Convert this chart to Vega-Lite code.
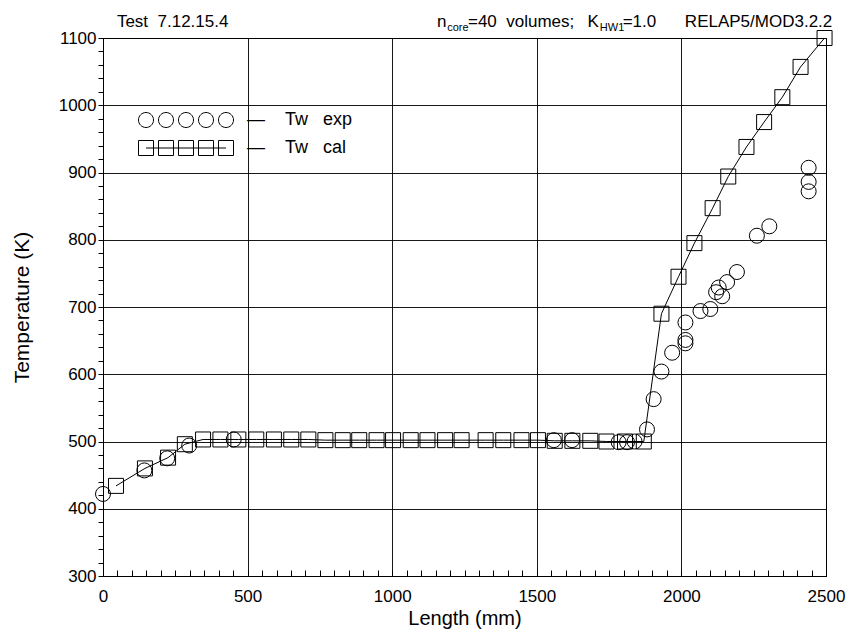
{
  "$schema": "https://vega.github.io/schema/vega-lite/v6.json",
  "width": 723,
  "height": 538,
  "autosize": {"type": "none"},
  "padding": {"left": 103, "top": 38, "right": 26, "bottom": 55},
  "background": "white",
  "config": {
    "view": {"stroke": "black", "strokeWidth": 1},
    "font": "Liberation Sans",
    "axis": {
      "domainColor": "black",
      "domainWidth": 1,
      "tickColor": "black",
      "tickWidth": 1,
      "labelColor": "black",
      "labelFont": "Liberation Sans",
      "labelFontSize": 17,
      "labelOverlap": false,
      "labelBound": false,
      "labelFlush": false,
      "titleColor": "black",
      "titleFont": "Liberation Sans",
      "titleFontWeight": "normal",
      "gridColor": "black",
      "gridWidth": 1
    },
    "legend": {
      "orient": "none",
      "title": null,
      "padding": 0,
      "symbolSize": 225,
      "symbolStrokeColor": "black",
      "symbolFillColor": "transparent",
      "symbolStrokeWidth": 1,
      "labelFont": "Liberation Sans",
      "labelFontSize": 18,
      "labelColor": "black",
      "labelOffset": 92
    }
  },
  "datasets": {
    "wall": [
      {"series": "cal", "length_mm": 45, "temp_K": 434},
      {"series": "cal", "length_mm": 145, "temp_K": 460},
      {"series": "cal", "length_mm": 225, "temp_K": 476},
      {"series": "cal", "length_mm": 283, "temp_K": 496},
      {"series": "cal", "length_mm": 346, "temp_K": 503},
      {"series": "cal", "length_mm": 406, "temp_K": 503},
      {"series": "cal", "length_mm": 468, "temp_K": 503},
      {"series": "cal", "length_mm": 530, "temp_K": 503},
      {"series": "cal", "length_mm": 591, "temp_K": 503},
      {"series": "cal", "length_mm": 651, "temp_K": 503},
      {"series": "cal", "length_mm": 710, "temp_K": 503},
      {"series": "cal", "length_mm": 769, "temp_K": 502},
      {"series": "cal", "length_mm": 829, "temp_K": 502},
      {"series": "cal", "length_mm": 886, "temp_K": 502},
      {"series": "cal", "length_mm": 946, "temp_K": 502},
      {"series": "cal", "length_mm": 1003, "temp_K": 502},
      {"series": "cal", "length_mm": 1064, "temp_K": 502},
      {"series": "cal", "length_mm": 1122, "temp_K": 502},
      {"series": "cal", "length_mm": 1183, "temp_K": 502},
      {"series": "cal", "length_mm": 1240, "temp_K": 502},
      {"series": "cal", "length_mm": 1323, "temp_K": 502},
      {"series": "cal", "length_mm": 1384, "temp_K": 502},
      {"series": "cal", "length_mm": 1447, "temp_K": 502},
      {"series": "cal", "length_mm": 1504, "temp_K": 502},
      {"series": "cal", "length_mm": 1562, "temp_K": 501},
      {"series": "cal", "length_mm": 1623, "temp_K": 501},
      {"series": "cal", "length_mm": 1685, "temp_K": 501},
      {"series": "cal", "length_mm": 1741, "temp_K": 500},
      {"series": "cal", "length_mm": 1805, "temp_K": 500},
      {"series": "cal", "length_mm": 1870, "temp_K": 500},
      {"series": "cal", "length_mm": 1931, "temp_K": 690},
      {"series": "cal", "length_mm": 1990, "temp_K": 745},
      {"series": "cal", "length_mm": 2045, "temp_K": 795},
      {"series": "cal", "length_mm": 2108, "temp_K": 847},
      {"series": "cal", "length_mm": 2162, "temp_K": 894},
      {"series": "cal", "length_mm": 2225, "temp_K": 938},
      {"series": "cal", "length_mm": 2286, "temp_K": 975},
      {"series": "cal", "length_mm": 2349, "temp_K": 1012},
      {"series": "cal", "length_mm": 2412, "temp_K": 1057},
      {"series": "cal", "length_mm": 2495, "temp_K": 1100},
      {"series": "exp", "length_mm": 0, "temp_K": 422},
      {"series": "exp", "length_mm": 143, "temp_K": 457},
      {"series": "exp", "length_mm": 222, "temp_K": 475},
      {"series": "exp", "length_mm": 298, "temp_K": 494},
      {"series": "exp", "length_mm": 452, "temp_K": 503},
      {"series": "exp", "length_mm": 1559, "temp_K": 502},
      {"series": "exp", "length_mm": 1622, "temp_K": 502},
      {"series": "exp", "length_mm": 1783, "temp_K": 499},
      {"series": "exp", "length_mm": 1812, "temp_K": 499},
      {"series": "exp", "length_mm": 1838, "temp_K": 500},
      {"series": "exp", "length_mm": 1881, "temp_K": 518},
      {"series": "exp", "length_mm": 1904, "temp_K": 563},
      {"series": "exp", "length_mm": 1931, "temp_K": 604},
      {"series": "exp", "length_mm": 1968, "temp_K": 632},
      {"series": "exp", "length_mm": 2014, "temp_K": 677},
      {"series": "exp", "length_mm": 2014, "temp_K": 651},
      {"series": "exp", "length_mm": 2014, "temp_K": 646},
      {"series": "exp", "length_mm": 2066, "temp_K": 694},
      {"series": "exp", "length_mm": 2100, "temp_K": 697},
      {"series": "exp", "length_mm": 2120, "temp_K": 722},
      {"series": "exp", "length_mm": 2129, "temp_K": 729},
      {"series": "exp", "length_mm": 2141, "temp_K": 716},
      {"series": "exp", "length_mm": 2158, "temp_K": 737},
      {"series": "exp", "length_mm": 2192, "temp_K": 752},
      {"series": "exp", "length_mm": 2261, "temp_K": 806},
      {"series": "exp", "length_mm": 2304, "temp_K": 820},
      {"series": "exp", "length_mm": 2440, "temp_K": 907},
      {"series": "exp", "length_mm": 2440, "temp_K": 886},
      {"series": "exp", "length_mm": 2440, "temp_K": 872}
    ],
    "header": [
      {"piece": "Test\u00a0\u00a07.12.15.4", "at_mm": 48, "kind": "main"},
      {"piece": "n", "at_mm": 1155, "kind": "main"},
      {"piece": "core", "at_mm": 1190, "kind": "sub"},
      {"piece": "=40\u00a0\u00a0volumes;", "at_mm": 1262, "kind": "main"},
      {"piece": "K", "at_mm": 1675, "kind": "main"},
      {"piece": "HW1", "at_mm": 1718, "kind": "sub"},
      {"piece": "=1.0", "at_mm": 1797, "kind": "main"},
      {"piece": "RELAP5/MOD3.2.2", "at_mm": 2012, "kind": "main"}
    ]
  },
  "resolve": {"scale": {"color": "independent"}, "legend": {"color": "independent"}},
  "layer": [
    {
      "data": {"name": "wall"},
      "transform": [{"filter": "datum.series === 'cal'"}],
      "mark": {"type": "line", "color": "black", "strokeWidth": 1},
      "encoding": {
        "x": {
          "field": "length_mm", "type": "quantitative", "title": "Length (mm)",
          "scale": {"domain": [0, 2500], "nice": false, "zero": false},
          "axis": {"titleFontSize": 20, "titlePadding": 4, "values": [0, 50, 100, 150, 200, 250, 300, 350, 400, 450, 500, 550, 600, 650, 700, 750, 800, 850, 900, 950, 1000, 1050, 1100, 1150, 1200, 1250, 1300, 1350, 1400, 1450, 1500, 1550, 1600, 1650, 1700, 1750, 1800, 1850, 1900, 1950, 2000, 2050, 2100, 2150, 2200, 2250, 2300, 2350, 2400, 2450, 2500], "format": "d", "labelExpr": "datum.value % 500 === 0 ? datum.label : ''", "tickSize": -6, "labelPadding": 18, "grid": true, "gridOpacity": {"condition": {"test": "datum.value % 500 === 0", "value": 0.9}, "value": 0}}
        },
        "y": {
          "field": "temp_K", "type": "quantitative", "title": "Temperature (K)",
          "scale": {"domain": [300, 1100], "nice": false, "zero": false},
          "axis": {"titleFontSize": 21, "titlePadding": 26, "values": [300, 320, 340, 360, 380, 400, 420, 440, 460, 480, 500, 520, 540, 560, 580, 600, 620, 640, 660, 680, 700, 720, 740, 760, 780, 800, 820, 840, 860, 880, 900, 920, 940, 960, 980, 1000, 1020, 1040, 1060, 1080, 1100], "format": "d", "labelExpr": "datum.value % 100 === 0 ? datum.label : ''", "tickSize": 5, "labelPadding": 2, "grid": true, "gridOpacity": {"condition": {"test": "datum.value % 100 === 0", "value": 0.9}, "value": 0}}
        }
      }
    },
    {
      "data": {"name": "wall"},
      "transform": [{"filter": "datum.series === 'cal'"}],
      "mark": {"type": "point", "shape": "square", "filled": false, "strokeWidth": 1, "size": 225, "opacity": 1},
      "encoding": {
        "x": {
          "field": "length_mm", "type": "quantitative", "title": "Length (mm)",
          "scale": {"domain": [0, 2500], "nice": false, "zero": false},
          "axis": {"titleFontSize": 20, "titlePadding": 4, "values": [0, 50, 100, 150, 200, 250, 300, 350, 400, 450, 500, 550, 600, 650, 700, 750, 800, 850, 900, 950, 1000, 1050, 1100, 1150, 1200, 1250, 1300, 1350, 1400, 1450, 1500, 1550, 1600, 1650, 1700, 1750, 1800, 1850, 1900, 1950, 2000, 2050, 2100, 2150, 2200, 2250, 2300, 2350, 2400, 2450, 2500], "format": "d", "labelExpr": "datum.value % 500 === 0 ? datum.label : ''", "tickSize": -6, "labelPadding": 18, "grid": true, "gridOpacity": {"condition": {"test": "datum.value % 500 === 0", "value": 0.9}, "value": 0}}
        },
        "y": {
          "field": "temp_K", "type": "quantitative", "title": "Temperature (K)",
          "scale": {"domain": [300, 1100], "nice": false, "zero": false},
          "axis": {"titleFontSize": 21, "titlePadding": 26, "values": [300, 320, 340, 360, 380, 400, 420, 440, 460, 480, 500, 520, 540, 560, 580, 600, 620, 640, 660, 680, 700, 720, 740, 760, 780, 800, 820, 840, 860, 880, 900, 920, 940, 960, 980, 1000, 1020, 1040, 1060, 1080, 1100], "format": "d", "labelExpr": "datum.value % 100 === 0 ? datum.label : ''", "tickSize": 5, "labelPadding": 2, "grid": true, "gridOpacity": {"condition": {"test": "datum.value % 100 === 0", "value": 0.9}, "value": 0}}
        },
        "color": {
          "field": "series", "type": "nominal",
          "scale": {"range": ["black"]},
          "legend": {
            "legendX": 34,
            "legendY": 101,
            "symbolType": "M-1,-1H1V1H-1ZM1.667,-1H3.667V1H1.667ZM4.333,-1H6.333V1H4.333ZM7,-1H9V1H7ZM9.667,-1H11.667V1H9.667ZM0,0H10.667",
            "labelExpr": "'\u2014\u00a0\u00a0\u00a0\u00a0Tw\u00a0\u00a0\u00a0cal'"
          }
        }
      }
    },
    {
      "data": {"name": "wall"},
      "transform": [{"filter": "datum.series === 'exp'"}],
      "mark": {"type": "point", "shape": "circle", "filled": false, "strokeWidth": 1, "size": 225, "opacity": 1},
      "encoding": {
        "x": {
          "field": "length_mm", "type": "quantitative", "title": "Length (mm)",
          "scale": {"domain": [0, 2500], "nice": false, "zero": false},
          "axis": {"titleFontSize": 20, "titlePadding": 4, "values": [0, 50, 100, 150, 200, 250, 300, 350, 400, 450, 500, 550, 600, 650, 700, 750, 800, 850, 900, 950, 1000, 1050, 1100, 1150, 1200, 1250, 1300, 1350, 1400, 1450, 1500, 1550, 1600, 1650, 1700, 1750, 1800, 1850, 1900, 1950, 2000, 2050, 2100, 2150, 2200, 2250, 2300, 2350, 2400, 2450, 2500], "format": "d", "labelExpr": "datum.value % 500 === 0 ? datum.label : ''", "tickSize": -6, "labelPadding": 18, "grid": true, "gridOpacity": {"condition": {"test": "datum.value % 500 === 0", "value": 0.9}, "value": 0}}
        },
        "y": {
          "field": "temp_K", "type": "quantitative", "title": "Temperature (K)",
          "scale": {"domain": [300, 1100], "nice": false, "zero": false},
          "axis": {"titleFontSize": 21, "titlePadding": 26, "values": [300, 320, 340, 360, 380, 400, 420, 440, 460, 480, 500, 520, 540, 560, 580, 600, 620, 640, 660, 680, 700, 720, 740, 760, 780, 800, 820, 840, 860, 880, 900, 920, 940, 960, 980, 1000, 1020, 1040, 1060, 1080, 1100], "format": "d", "labelExpr": "datum.value % 100 === 0 ? datum.label : ''", "tickSize": 5, "labelPadding": 2, "grid": true, "gridOpacity": {"condition": {"test": "datum.value % 100 === 0", "value": 0.9}, "value": 0}}
        },
        "color": {
          "field": "series", "type": "nominal",
          "scale": {"range": ["black"]},
          "legend": {
            "legendX": 34,
            "legendY": 73,
            "symbolType": "M1,0A1,1,0,1,1,-1,0A1,1,0,1,1,1,0ZM3.667,0A1,1,0,1,1,1.667,0A1,1,0,1,1,3.667,0ZM6.333,0A1,1,0,1,1,4.333,0A1,1,0,1,1,6.333,0ZM9,0A1,1,0,1,1,7,0A1,1,0,1,1,9,0ZM11.667,0A1,1,0,1,1,9.667,0A1,1,0,1,1,11.667,0Z",
            "labelExpr": "'\u2014\u00a0\u00a0\u00a0\u00a0Tw\u00a0\u00a0\u00a0exp'"
          }
        }
      }
    },
    {
      "data": {"name": "header"},
      "transform": [{"filter": "datum.kind === 'main'"}],
      "mark": {"type": "text", "align": "left", "baseline": "alphabetic", "fontSize": 17, "color": "black", "font": "Liberation Sans"},
      "encoding": {
        "x": {
          "field": "at_mm", "type": "quantitative", "title": "Length (mm)",
          "scale": {"domain": [0, 2500], "nice": false, "zero": false},
          "axis": {"titleFontSize": 20, "titlePadding": 4, "values": [0, 50, 100, 150, 200, 250, 300, 350, 400, 450, 500, 550, 600, 650, 700, 750, 800, 850, 900, 950, 1000, 1050, 1100, 1150, 1200, 1250, 1300, 1350, 1400, 1450, 1500, 1550, 1600, 1650, 1700, 1750, 1800, 1850, 1900, 1950, 2000, 2050, 2100, 2150, 2200, 2250, 2300, 2350, 2400, 2450, 2500], "format": "d", "labelExpr": "datum.value % 500 === 0 ? datum.label : ''", "tickSize": -6, "labelPadding": 18, "grid": true, "gridOpacity": {"condition": {"test": "datum.value % 500 === 0", "value": 0.9}, "value": 0}}
        },
        "y": {
          "datum": 1116, "type": "quantitative", "title": "Temperature (K)",
          "scale": {"domain": [300, 1100], "nice": false, "zero": false},
          "axis": {"titleFontSize": 21, "titlePadding": 26, "values": [300, 320, 340, 360, 380, 400, 420, 440, 460, 480, 500, 520, 540, 560, 580, 600, 620, 640, 660, 680, 700, 720, 740, 760, 780, 800, 820, 840, 860, 880, 900, 920, 940, 960, 980, 1000, 1020, 1040, 1060, 1080, 1100], "format": "d", "labelExpr": "datum.value % 100 === 0 ? datum.label : ''", "tickSize": 5, "labelPadding": 2, "grid": true, "gridOpacity": {"condition": {"test": "datum.value % 100 === 0", "value": 0.9}, "value": 0}}
        },
        "text": {"field": "piece"}
      }
    },
    {
      "data": {"name": "header"},
      "transform": [{"filter": "datum.kind === 'sub'"}],
      "mark": {"type": "text", "align": "left", "baseline": "alphabetic", "fontSize": 11, "dy": 4, "color": "black", "font": "Liberation Sans"},
      "encoding": {
        "x": {
          "field": "at_mm", "type": "quantitative", "title": "Length (mm)",
          "scale": {"domain": [0, 2500], "nice": false, "zero": false},
          "axis": {"titleFontSize": 20, "titlePadding": 4, "values": [0, 50, 100, 150, 200, 250, 300, 350, 400, 450, 500, 550, 600, 650, 700, 750, 800, 850, 900, 950, 1000, 1050, 1100, 1150, 1200, 1250, 1300, 1350, 1400, 1450, 1500, 1550, 1600, 1650, 1700, 1750, 1800, 1850, 1900, 1950, 2000, 2050, 2100, 2150, 2200, 2250, 2300, 2350, 2400, 2450, 2500], "format": "d", "labelExpr": "datum.value % 500 === 0 ? datum.label : ''", "tickSize": -6, "labelPadding": 18, "grid": true, "gridOpacity": {"condition": {"test": "datum.value % 500 === 0", "value": 0.9}, "value": 0}}
        },
        "y": {
          "datum": 1116, "type": "quantitative", "title": "Temperature (K)",
          "scale": {"domain": [300, 1100], "nice": false, "zero": false},
          "axis": {"titleFontSize": 21, "titlePadding": 26, "values": [300, 320, 340, 360, 380, 400, 420, 440, 460, 480, 500, 520, 540, 560, 580, 600, 620, 640, 660, 680, 700, 720, 740, 760, 780, 800, 820, 840, 860, 880, 900, 920, 940, 960, 980, 1000, 1020, 1040, 1060, 1080, 1100], "format": "d", "labelExpr": "datum.value % 100 === 0 ? datum.label : ''", "tickSize": 5, "labelPadding": 2, "grid": true, "gridOpacity": {"condition": {"test": "datum.value % 100 === 0", "value": 0.9}, "value": 0}}
        },
        "text": {"field": "piece"}
      }
    }
  ]
}
